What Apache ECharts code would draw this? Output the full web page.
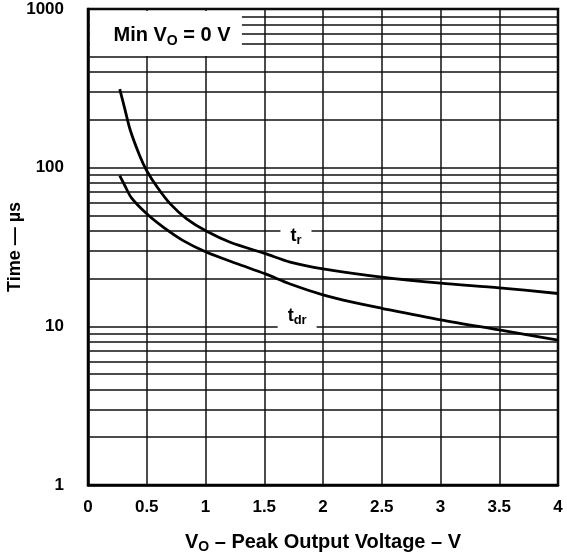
<!DOCTYPE html>
<html><head><meta charset="utf-8">
<script src="https://cdn.jsdelivr.net/npm/echarts@6/dist/echarts.min.js"></script>
<style>html,body{margin:0;padding:0;background:#fff}#c{width:567px;height:556px}</style>
</head><body><div id="c"></div>
<script>
// ---- data ----
const trX  = [0.27, 0.31, 0.36, 0.44, 0.50, 0.59, 0.70, 0.84, 1.01, 1.21, 1.51, 1.72, 2.0, 2.5, 3.0, 3.5, 4.0];
const trY  = [313, 240, 172, 119, 95.7, 75.2, 59.1, 47.6, 39.7, 33.9, 28.7, 25.4, 23.0, 20.4, 18.7, 17.5, 16.1];
const tdrX = [0.27, 0.31, 0.37, 0.50, 0.64, 0.81, 1.01, 1.27, 1.51, 1.72, 2.0, 2.25, 2.5, 3.0, 3.5, 4.0];
const tdrY = [89, 78, 64.5, 51.2, 42.2, 34.7, 29.3, 24.8, 21.4, 18.5, 15.8, 14.2, 13.0, 11.0, 9.5, 8.2];
const minorGrid = [2,3,4,5,6,7,8,9,20,30,40,50,60,70,80,90,200,300,400,500,600,700,800,900];
const yTicks = [1, 10, 100, 1000];
const xTicks = [0, 0.5, 1, 1.5, 2, 2.5, 3, 3.5, 4];
const labelTr  = [1.77, 37];
const labelTdr = [1.78, 11.6];
const boxCorner = [1.31, 506];
const boxTextAt = [0.715, 676];

const FONT = '"Liberation Sans", Arial, Helvetica, sans-serif';
const zip = (a, b) => a.map((v, i) => [v, b[i]]);

const chart = echarts.init(document.getElementById('c'));
const option = {
  animation: false,
  grid: { left: 88, right: 9, top: 9, bottom: 71, outerBoundsMode: 'none', containLabel: false,
    show: true, borderColor: '#000', borderWidth: 2.5, backgroundColor: 'transparent' },
  xAxis: {
    type: 'value', min: xTicks[0], max: xTicks[xTicks.length - 1], interval: 0.5,
    name: '{v|V}{s|O} – Peak Output Voltage – V', nameLocation: 'middle', nameGap: 45,
    nameTextStyle: { color: '#000', fontSize: 20, fontWeight: 'bold', fontFamily: FONT, lineHeight: 24,
      rich: { v: { fontSize: 20, fontWeight: 'bold', fontFamily: FONT, lineHeight: 24, color: '#000' },
              s: { fontSize: 14, fontWeight: 'bold', fontFamily: FONT, lineHeight: 13, verticalAlign: 'bottom', color: '#000' } } },
    axisLine: { show: true, onZero: false, lineStyle: { color: '#000', width: 2.5 } },
    axisTick: { show: false },
    axisLabel: { color: '#000', fontSize: 17, fontWeight: 'bold', fontFamily: FONT, margin: 14,
      formatter: v => xTicks.includes(v) ? String(v) : '' },
    splitLine: { show: true, lineStyle: { color: '#111', width: 1.5 } }
  },
  yAxis: {
    type: 'log', logBase: 10, min: yTicks[0], max: yTicks[yTicks.length - 1],
    name: 'Time — µs', nameLocation: 'middle', nameGap: 64, nameRotate: 90, nameMoveOverlap: false,
    nameTextStyle: { color: '#000', fontSize: 18, fontWeight: 'bold', fontFamily: FONT },
    axisLine: { show: true, onZero: false, lineStyle: { color: '#000', width: 2.5 } },
    axisTick: { show: false },
    axisLabel: { color: '#000', fontSize: 17, fontWeight: 'bold', fontFamily: FONT, margin: 24,
      formatter: v => String(v) },
    splitLine: { show: true, lineStyle: { color: '#111', width: 1.5 } }
  },
  series: [
    { type: 'line', data: [], z: 1, silent: true,
      markLine: { silent: true, z: 1, symbol: 'none', animation: false, label: { show: false },
        lineStyle: { color: '#111', width: 1.5, type: 'solid' },
        data: minorGrid.map(v => ({ yAxis: v })) } },
    { type: 'line', name: 'tr', data: zip(trX, trY), smooth: 0.3, showSymbol: false, z: 5,
      lineStyle: { color: '#000', width: 2.8 } },
    { type: 'line', name: 'tdr', data: zip(tdrX, tdrY), smooth: 0.3, showSymbol: false, z: 5,
      lineStyle: { color: '#000', width: 2.8 } }
  ]
};
chart.setOption(option);

const px = p => chart.convertToPixel({ gridIndex: 0 }, p);
const p0 = px([0, 1000]);
const p1 = px(boxCorner);
const pt = px(boxTextAt);
const pr = px(labelTr);
const pd = px(labelTdr);
const sub = (t, s) => ({
  text: '{b|' + t + '}{s|' + s + '}',
  rich: {
    b: { fontSize: 18, fontWeight: 'bold', fontFamily: FONT, lineHeight: 22, fill: '#000' },
    s: { fontSize: 13, fontWeight: 'bold', fontFamily: FONT, lineHeight: 13, verticalAlign: 'bottom', fill: '#000' }
  }
});
chart.setOption({
  graphic: [
    { type: 'rect', z: 100, shape: { x: p0[0] + 2, y: p0[1] + 2, width: p1[0] - p0[0] - 2, height: p1[1] - p0[1] - 2 },
      style: { fill: '#fff' } },
    { type: 'text', z: 101, x: pt[0], y: pt[1],
      style: { text: '{b|Min V}{s|O}{b| = 0 V}', align: 'center', verticalAlign: 'middle',
        rich: {
          b: { fontSize: 20, fontWeight: 'bold', fontFamily: FONT, lineHeight: 24, fill: '#000' },
          s: { fontSize: 14, fontWeight: 'bold', fontFamily: FONT, lineHeight: 14, verticalAlign: 'bottom', fill: '#000' }
        } } },
    { type: 'text', z: 101, x: pr[0], y: pr[1],
      style: Object.assign(sub('t', 'r'), { align: 'center', verticalAlign: 'middle', backgroundColor: '#fff', padding: [2, 10, 2, 10] }) },
    { type: 'text', z: 101, x: pd[0], y: pd[1],
      style: Object.assign(sub('t', 'dr'), { align: 'center', verticalAlign: 'middle', backgroundColor: '#fff', padding: [2, 10, 2, 10] }) }
  ]
});
</script>
</body></html>
